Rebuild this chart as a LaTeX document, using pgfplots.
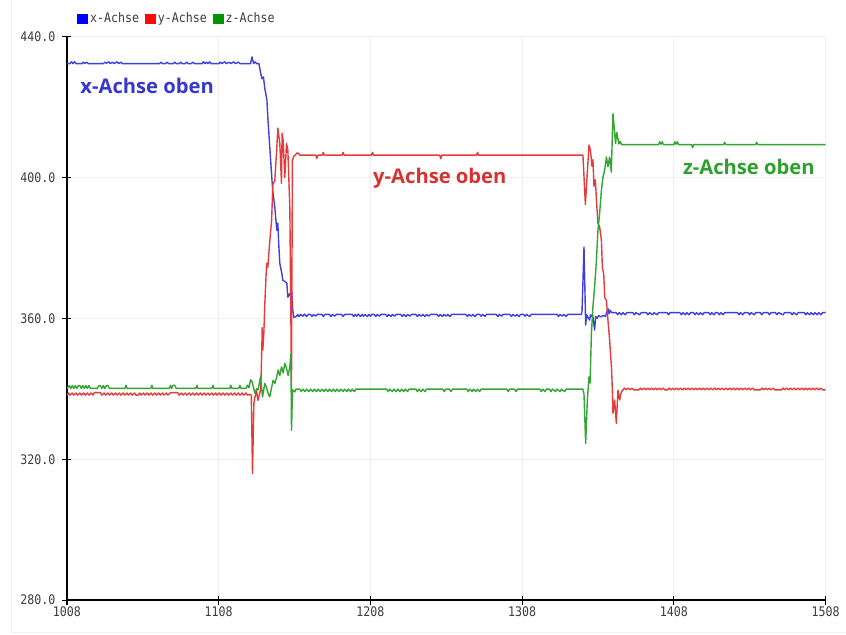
\documentclass[border=0pt]{standalone}
\usepackage{fontspec}
\usepackage{pgfplots}
\pgfplotsset{compat=1.18}
\newfontfamily\lblfont{Open Sans}
\newfontfamily\monofont{DejaVu Sans Mono}[FakeStretch=0.88]
\definecolor{linblue}{RGB}{64,64,218}
\definecolor{linred}{RGB}{228,60,60}
\definecolor{lingreen}{RGB}{50,165,50}
\definecolor{legblue}{RGB}{0,0,255}
\definecolor{legred}{RGB}{255,10,10}
\definecolor{leggreen}{RGB}{0,150,0}
\definecolor{txtblue}{RGB}{55,55,205}
\definecolor{txtred}{RGB}{215,50,50}
\definecolor{txtgreen}{RGB}{45,160,45}
\definecolor{tickgray}{RGB}{60,60,60}
\begin{document}
\begin{tikzpicture}
\begin{axis}[
  name=ax,
  scale only axis,
  width=379.5pt, height=282pt,
  xmin=1008, xmax=1508, ymin=280, ymax=440,
  xtick={1008,1108,1208,1308,1408,1508},
  ytick={280,320,360,400,440},
  axis x line*=bottom, axis y line*=left,
  axis line style={-, black, line width=0.7pt},
  tick align=center, major tick length=4.5pt,
  tick style={black, line width=0.6pt},
  grid=major, major grid style={color=gray!12, line width=0.5pt},
  /pgf/number format/assume math mode=true,
  /pgf/number format/1000 sep={},
  ticklabel style={font=\monofont\fontsize{6.6}{7}\selectfont, text=tickgray},
  yticklabel style={/pgf/number format/.cd, fixed, fixed zerofill, precision=1},
  xticklabel style={inner sep=1pt},
  legend columns=3,
  legend style={at={(0,1)}, anchor=west, xshift=5pt, yshift=8.75pt, draw=none, fill=none, inner sep=0pt,
    font=\monofont\fontsize{6.6}{7}\selectfont, text=tickgray,
    nodes={inner sep=1pt},
    /tikz/every even column/.append style={column sep=2pt}},
  legend image code/.code={\fill[#1] (0pt,-2.7pt) rectangle (5.4pt,2.7pt);},
  every axis plot/.append style={line width=0.7pt, line join=round},
]
\addlegendimage{fill=legblue, draw=none}
\addlegendentry{x-Achse}
\addlegendimage{fill=legred, draw=none}
\addlegendentry{y-Achse}
\addlegendimage{fill=leggreen, draw=none}
\addlegendentry{z-Achse}

% x-Achse
\addplot[linblue, forget plot] coordinates {
(1008,432.3)(1010,432.3)(1011,432.8)(1012,432.3)(1013,432.8)(1014,432.3)(1018,432.3)(1018.8,432.7)(1019.6,432.3)(1021,432.7)(1022,432.3)(1032,432.3)(1033,432.7)(1034,432.4)(1035.5,432.8)(1036.5,432.3)(1038,432.7)(1039,432.3)(1041,432.8)(1042,432.3)(1043.5,432.7)(1044.5,432.3)(1069,432.3)(1070,432.7)(1071,432.3)(1073,432.3)(1074,432.7)(1075,432.3)(1078,432.3)(1079,432.7)(1080,432.3)(1082,432.3)(1083,432.7)(1084,432.3)(1086,432.3)(1087,432.7)(1088,432.3)(1090,432.3)(1091,432.7)(1092,432.3)(1097,432.3)(1098,432.8)(1099,432.3)(1100,432.7)(1101,432.3)(1102,432.8)(1103,432.3)(1108,432.3)(1109,432.7)(1110,432.3)(1112,432.8)(1113,432.3)(1115,432.7)(1116,432.3)(1118,432.8)(1119,432.3)(1121,432.7)(1122,432.3)(1129,432.3)(1130,434.2)(1131,432.3)(1132,432.8)(1133,432.3)(1134.5,432.3)
(1135.5,430)(1136.5,428)(1137.5,428.5)(1138.5,425)(1139.8,422)(1140.4,417)(1141.7,408.5)(1143,400)(1143.7,396)(1145,391.5)(1146.3,385)(1147,387)(1147.6,381)(1148.3,375.6)(1149.6,372.8)(1150.3,370.8)(1151.5,370.5)(1152.9,370)(1153.6,366)(1154.9,367)(1155.6,366)(1156.2,367.5)(1156.9,362)(1157.6,360.2)(1159.5,360.6)
(1160,361.1)(1161,360.5)(1162,361.1)(1163.5,360.6)(1164.5,361.2)(1166,360.5)(1167,361.1)(1168.5,361.1)(1169.5,360.5)(1170.5,361.1)(1172,360.6)(1173,361.1)(1176,361.1)(1177,360.5)(1178,361.1)(1181,361.1)(1182,360.5)(1183,361.1)(1184.5,360.6)(1185.5,361.1)
(1189,361.1)(1190,360.5)(1191,361.1)
(1196,361.1)(1197,360.5)(1198,361.1)(1199,360.6)(1200,361.2)(1201.5,360.5)(1202.5,361.1)(1203.5,360.6)(1204.5,361.1)(1206,360.5)(1207,361.1)(1208,360.6)(1209,361.1)(1210.5,361.1)(1211.5,360.5)(1212.5,361.1)(1214,360.6)(1215,361.1)(1218,361.1)(1219,360.5)(1220,361.1)(1221.5,360.5)(1222.5,361.1)(1224,360.6)(1225,361.1)
(1228,361.1)(1229,360.5)(1230,361.1)(1231.5,360.5)(1232.5,361.1)(1234,360.6)(1235,361.1)(1238,361.1)(1239,360.5)(1240,361.1)(1241.5,360.6)(1242.5,361.1)(1244,360.5)(1245,361.1)(1246.5,360.6)(1247.5,361.1)
(1252,361.1)(1253,360.5)(1254,361.1)(1255.5,360.5)(1256.5,361.1)(1258,360.6)(1259,361.1)(1260.5,360.5)(1261.5,361.1)
(1271,361.1)(1272,360.5)(1273,361.1)(1274.5,360.6)(1275.5,361.1)(1277,360.5)(1278,361.1)(1280,361.1)(1281,360.6)(1282,361.1)(1283.5,360.5)(1284.5,361.1)
(1291,361.1)(1292,360.5)(1293,361.1)(1294.5,360.6)(1295.5,361.1)
(1300,361.1)(1301,360.5)(1302,361.1)(1303.5,360.6)(1304.5,361.1)(1306,360.5)(1307,361.1)(1309,361.1)(1310,360.6)(1311,361.1)(1313,360.5)(1314,361.1)
(1331,361.1)(1332,360.5)(1333,361.1)(1334.5,360.6)(1335.5,361.1)(1337,360.5)(1338,361.1)(1347,361.1)
(1347.5,362)(1348.8,380.2)(1349.9,358.1)(1350.6,361)(1351.4,360.3)(1352.5,359.5)(1353.1,361)(1353.7,360.5)(1354.5,361)(1355.8,356.7)(1356.5,360.5)(1357.5,360)(1358.5,360.8)(1360,360.4)(1361.5,360.8)(1363,360.5)(1363.6,361.5)(1364.6,362.8)(1365.3,361.3)(1366,362.3)(1367,361.6)
(1368,361.6)(1370,361.6)(1371,361)(1372,361.6)(1373.5,361)(1374.5,361.6)(1376,361)(1377,361.6)(1381,361.6)(1382,361)(1383,361.6)(1385.5,361)(1386.5,361.6)(1390,361.6)(1391,361)(1392,361.6)(1394,361)(1395,361.6)(1397,361)(1398,361.6)(1403.5,361.6)(1404.5,361)(1405.5,361.6)(1412,361.6)(1413,361)(1414,361.6)(1415.5,361)(1416.5,361.6)(1418,361)(1419,361.6)(1421,361.6)(1422,361)(1423,361.6)(1424.5,361)(1425.5,361.6)(1427,361)(1428,361.6)(1431,361.6)(1432,361)(1433,361.6)(1434.5,361)(1435.5,361.6)(1437,361.6)(1438,361)(1439,361.6)(1440.5,361)(1441.5,361.6)(1450,361.6)(1451,361)(1452,361.6)(1453.5,361)(1454.5,361.6)(1457,361.6)(1458,361)(1459,361.6)(1461,361)(1462,361.6)(1465,361.6)(1466,361)(1467,361.6)(1470,361.6)(1471,361)(1472,361.6)(1475,361.6)(1476,361)(1477,361.6)(1480,361)(1481,361.6)(1485,361.6)(1486,361)(1487,361.6)(1489,361)(1490,361.6)(1494,361.6)(1495,361)(1496,361.6)(1497.5,361)(1498.5,361.6)(1500,361)(1501,361.6)(1502.5,361)(1503.5,361.6)(1505,361)(1506,361.6)(1508,361.6)
};

% y-Achse
\addplot[linred, forget plot] coordinates {
(1008,338.2)(1009,338.8)(1010,338.2)(1011.5,338.8)(1012.5,338.2)(1014,338.8)(1015,338.2)(1016.5,338.8)(1017.5,338.2)(1019,338.8)(1020,338.2)(1021.5,338.8)(1022.5,338.2)(1024,338.8)(1025,338.2)(1026,338.9)(1030,338.9)(1031,338.2)(1032.5,338.8)(1033.5,338.2)(1035,338.8)(1036,338.2)(1037.5,338.8)(1038.5,338.2)(1040,338.8)(1041,338.2)(1042.5,338.8)(1043.5,338.2)(1045,338.8)(1046,338.2)(1047.5,338.8)(1048.5,338.2)(1050,338.8)(1051,338.2)(1052.5,338.8)(1053.5,338.2)(1055,338.2)(1056,338.8)(1057,338.2)(1058.5,338.8)(1059.5,338.2)(1061,338.8)(1062,338.2)(1063.5,338.8)(1064.5,338.2)(1066,338.8)(1067,338.2)(1068.5,338.8)(1069.5,338.2)(1071,338.8)(1072,338.2)(1073.5,338.8)(1074.5,338.2)(1076,338.8)(1077,338.9)(1081,338.9)(1082,338.2)(1083.5,338.8)(1084.5,338.2)(1086,338.8)(1087,338.2)(1088.5,338.8)(1089.5,338.2)(1091,338.8)(1092,338.2)(1093.5,338.8)(1094.5,338.2)(1096,338.8)(1097,338.2)(1098.5,338.8)(1099.5,338.2)(1101,338.8)(1102,338.2)(1103.5,338.8)(1104.5,338.2)(1106,338.8)(1107,338.2)(1108.5,338.8)(1109.5,338.2)(1111,338.8)(1112,338.2)(1113.5,338.8)(1114.5,338.2)(1116,338.8)(1117,338.2)(1118.5,338.8)(1119.5,338.2)(1121,338.8)(1122,338.2)(1123.5,338.8)(1124.5,338.2)(1126,338.8)(1127,338.2)(1128.5,338.4)
(1129.5,338.2)(1130.3,316)(1131.2,336)(1131.9,337.6)(1133,339.5)(1133.8,336.7)(1135,338.5)(1135.8,340.4)(1136.5,352.9)(1136.7,357.4)(1137.1,351)(1137.8,356)(1138.4,364)(1139.6,375.6)(1140.4,374.5)(1141.7,382)(1142.9,387.8)(1143.7,398)(1145,399)(1146.1,406.8)(1147,414)(1148.3,409.6)(1149.4,398.3)(1149.8,412.5)(1150.5,410.5)(1151.6,400)(1152.7,409.6)(1153.6,407.7)(1154.9,391.5)(1156.0,341.6)(1156.6,404.8)(1157.5,406)(1158.5,406.3)(1159.5,406.9)(1160.5,406.9)(1161.5,406.3)
(1172,406.3)(1172.7,405.4)(1173.4,406.3)(1176.2,406.3)(1176.9,407.1)(1177.6,406.3)(1189.3,406.3)(1190,407.1)(1190.7,406.3)(1208.7,406.3)(1209.4,407.1)(1210.1,406.3)(1253.7,406.3)(1254.4,405.3)(1255.1,406.3)(1277.9,406.3)(1278.6,407.1)(1279.3,406.3)(1348.1,406.3)
(1349.7,392.3)(1352.1,409.2)(1353,407.8)(1354.1,403.1)(1354.7,405)(1355.4,397.4)(1356.3,399.3)(1357,393.6)(1358,387)(1359.1,386)(1360.3,382)(1360.9,374.5)(1361.8,372.6)(1362.5,365.9)(1363.6,365)(1364.6,359.4)(1365.7,353.8)(1366.9,346.2)(1367.5,339.6)(1367.9,333)(1369,336.8)(1370.1,330.2)(1371.2,339.6)(1372.3,336.8)(1373.4,339.1)
(1374.5,339.7)(1375.5,340.2)(1376.5,339.7)(1378,340.2)(1379,339.7)(1380.5,340.2)(1381.5,339.7)(1385,339.7)(1386,340.2)(1387,339.7)(1388.5,340.2)(1389.5,339.7)(1391,340.2)(1392,339.7)(1393.5,340.2)(1394.5,339.7)(1396,340.2)(1397,339.7)(1398.5,340.2)(1399.5,339.7)(1401,340.2)(1402,339.7)(1404,339.7)(1405,340.2)(1406,339.7)(1407.5,340.2)(1408.5,339.7)(1410,340.2)(1411,339.7)(1412.5,340.2)(1413.5,339.7)(1415,340.2)(1416,339.7)(1417.5,340.2)(1418.5,339.7)(1420,340.2)(1421,339.7)(1422.5,340.2)(1423.5,339.7)(1425,340.2)(1426,339.7)(1427.5,340.2)(1428.5,339.7)(1430,340.2)(1431,339.7)(1432.5,340.2)(1433.5,339.7)(1435,340.2)(1436,339.7)(1437.5,340.2)(1438.5,339.7)(1440,340.2)(1441,339.7)(1442.5,340.2)(1443.5,339.7)(1445,340.2)(1446,339.7)(1447.5,340.2)(1448.5,339.7)(1450,340.2)(1451,339.7)(1452.5,340.2)(1453.5,339.7)(1455,340.2)(1456,339.7)(1457.5,340.2)(1458.5,339.7)(1460,340.2)(1461,339.7)(1465,339.7)(1466,340.2)(1467,339.7)(1468.5,340.2)(1469.5,339.7)(1471,340.2)(1472,339.7)(1473.5,340.2)(1474.5,339.7)(1479,339.7)(1480,340.2)(1481,339.7)(1482.5,340.2)(1483.5,339.7)(1485,340.2)(1486,339.7)(1487.5,340.2)(1488.5,339.7)(1490,340.2)(1491,339.7)(1492.5,340.2)(1493.5,339.7)(1495,340.2)(1496,339.7)(1497.5,340.2)(1498.5,339.7)(1500,340.2)(1501,339.7)(1502.5,340.2)(1503.5,339.7)(1505,340.2)(1506,339.7)(1508,339.7)
};

% z-Achse
\addplot[lingreen, forget plot] coordinates {
(1008,340.1)(1009.5,340.9)(1010.5,340.1)(1011.5,340.9)(1012.5,340.1)(1013.5,340.9)(1014.5,340.1)(1015.5,340.9)(1016.5,340.9)(1017.5,340.1)(1018.5,340.9)(1019.5,340.1)(1020.5,340.9)(1021.5,340.1)(1022.5,340.9)(1023.5,340.1)(1028,340.1)(1029,340.9)(1030,340.9)(1031,340.1)(1032,340.9)(1033,340.1)(1034,340.9)(1035,340.9)(1036,340.1)(1046.2,340.1)(1046.9,341)(1047.6,340.1)(1063.3,340.1)(1064,341)(1064.7,340.1)(1075.5,340.1)(1076.3,341)(1077,340.1)(1078,341)(1079,341)(1080,340.1)(1093,340.1)(1093.6,341)(1094.3,340.1)(1103.5,340.1)(1104.2,341)(1104.9,340.1)(1115.3,340.1)(1116,341)(1116.7,340.1)(1121.3,340.1)(1122,341)(1122.7,340.1)(1126,340.1)(1127,341)(1128,340.3)
(1129,342.6)(1130,342)(1131.9,338.7)(1133,340)(1134,339.7)(1135.6,343.4)(1136.9,337.7)(1138.4,341.5)(1139.5,340.5)(1140.6,338.7)(1141.7,337.7)(1142.9,340.4)(1143.9,342.4)(1145,341.5)(1146.1,343)(1147.2,345.3)(1148.3,343.8)(1149.4,346.2)(1150.5,344.5)(1151.6,347.2)(1152.7,345.8)(1153.8,343.8)(1154.9,346.2)(1155.6,350)(1156,328.2)(1156.7,339.7)(1158.2,339.1)(1159,339.9)
(1160,339.9)(1161.5,339.9)(1162.5,339.2)(1163.5,339.9)(1165,339.2)(1166,339.9)(1167.5,339.2)(1168.5,339.9)(1170,339.2)(1171,339.9)(1172.5,339.2)(1173.5,339.9)(1175,339.2)(1176,339.9)(1177.5,339.2)(1178.5,339.9)(1180,339.2)(1181,339.9)(1182.5,339.2)(1183.5,339.9)(1185,339.2)(1186,339.9)(1187.5,339.2)(1188.5,339.9)(1190,339.2)(1191,339.9)(1192.5,339.2)(1193.5,339.9)(1195,339.2)(1196,339.9)(1197.5,339.2)(1198.5,339.9)(1218.8,339.9)(1219.8,339.2)(1220.8,339.9)(1222.5,339.2)(1223.5,339.9)(1225,339.2)(1226,339.9)(1227.5,339.2)(1228.5,339.9)(1230,339.2)(1231,339.9)(1232.5,339.2)(1233.5,339.9)(1238,339.9)(1239,339.2)(1240,339.9)(1241.5,339.2)(1242.5,339.9)(1244,339.2)(1245,339.9)(1255.7,339.9)(1256.7,339.2)(1257.7,339.9)(1260,339.9)(1261,339.2)(1262,339.9)(1271.5,339.9)(1272.5,339.2)(1273.5,339.9)(1275,339.2)(1276,339.9)(1277.5,339.2)(1278.5,339.9)(1280,339.2)(1281,339.9)(1297.9,339.9)(1298.9,339.2)(1299.9,339.9)(1303,339.9)(1304,339.2)(1305,339.9)(1319.6,339.9)(1320.6,339.2)(1321.6,339.9)(1323,339.2)(1324,339.9)(1326,339.9)(1327,339.2)(1328,339.9)(1330,339.2)(1331,339.9)(1333,339.2)(1334,339.9)(1336,339.2)(1337,339.9)(1348.1,339.9)
(1348.8,338.5)(1349.9,324.5)(1351,336.8)(1352.1,343.4)(1352.8,341.6)(1353.7,355.8)(1354.7,363.3)(1355.8,369)(1357,376.5)(1358,385)(1359.1,389.8)(1360.3,396.4)(1361.3,400.1)(1362.4,402)(1363.6,405.8)(1364.6,403)(1365.7,405.8)(1366.8,401.5)(1367.9,418.1)(1369.6,409.6)(1370.4,412.8)(1371.8,409.5)(1372.7,410.2)(1373.6,409.3)
(1398,409.3)(1398.7,410.1)(1399.5,409.4)(1400.3,410.1)(1401.2,409.3)(1408,409.3)(1408.7,410.1)(1409.5,409.4)(1410.3,410.1)(1411.2,409.3)(1419.7,409.3)(1420.4,408.4)(1421.1,409.3)(1440.8,409.3)(1441.5,410)(1442.2,409.3)(1461.9,409.3)(1462.6,410)(1463.3,409.3)(1508,409.3)
};

\node[anchor=base west, inner sep=0pt, font=\lblfont\bfseries\fontsize{10.1}{12}\selectfont, text=txtblue] at (axis cs:1016.6,423.9) {x-Achse oben};
\node[anchor=base west, inner sep=0pt, font=\lblfont\bfseries\fontsize{10.1}{12}\selectfont, text=txtred] at (axis cs:1209.6,398.2) {y-Achse oben};
\node[anchor=base west, inner sep=0pt, font=\lblfont\bfseries\fontsize{10.1}{12}\selectfont, text=txtgreen] at (axis cs:1413.8,400.9) {z-Achse oben};
\coordinate (sw) at (rel axis cs:0,0);
\coordinate (ne) at (rel axis cs:1,1);
\end{axis}
\draw[gray!12, line width=0.5pt] ([xshift=-27.5pt]sw |- ne) ++(0,18pt) -- ([xshift=-27.5pt,yshift=-16pt]sw) -- ([xshift=10pt,yshift=-16pt]ne |- sw);
\path ([xshift=-33.5pt,yshift=-17pt]sw) rectangle ([xshift=10pt,yshift=18pt]ne);
\end{tikzpicture}
\end{document}
